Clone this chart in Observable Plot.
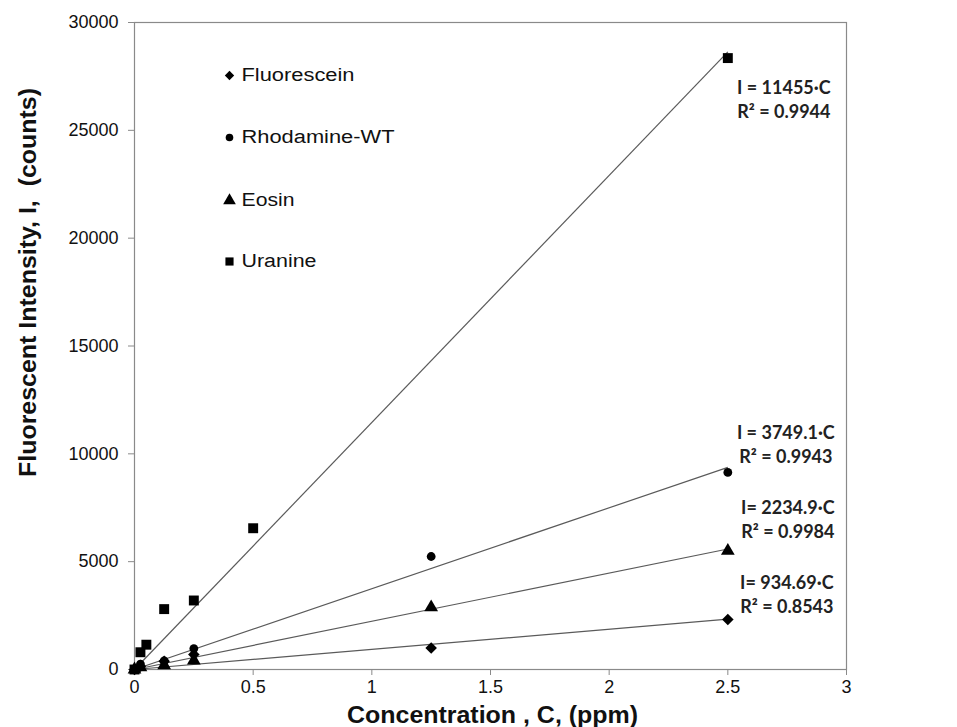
<!DOCTYPE html>
<html>
<head>
<meta charset="utf-8">
<script src="https://cdn.jsdelivr.net/npm/d3@7"></script>
<script src="https://cdn.jsdelivr.net/npm/@observablehq/plot@0.6"></script>
<style>
  html, body { margin: 0; padding: 0; background: #fff; }
  #chart { width: 957px; height: 727px; }
</style>
</head>
<body>
<div id="chart"></div>
<script>
// ---- data ----
const dyes = ["Fluorescein", "Rhodamine-WT", "Eosin", "Uranine"];
const symbols = ["diamond2", "circle", "triangle", "square"];

const fluoresceinX = [0, 0.025, 0.125, 0.25, 1.25, 2.5];
const fluoresceinY = [0, 150, 380, 700, 1000, 2320];

const rhodamineX = [0, 0.025, 0.125, 0.25, 1.25, 2.5];
const rhodamineY = [0, 250, 400, 970, 5240, 9140];

const eosinX = [0, 0.025, 0.125, 0.25, 1.25, 2.5];
const eosinY = [0, 100, 200, 420, 2880, 5500];

const uranineX = [0, 0.025, 0.05, 0.125, 0.25, 0.5, 2.5];
const uranineY = [0, 800, 1150, 2800, 3200, 6550, 28350];

const slopes = [934.69, 3749.1, 2234.9, 11455];
const fitMaxC = 2.5;
const eqLabels = ["I= 934.69·C", "I = 3749.1·C", "I= 2234.9·C", "I = 11455·C"];
const r2Labels = ["R² = 0.8543", "R² = 0.9943", "R² = 0.9984", "R² = 0.9944"];

const xTicks = [0, 0.5, 1, 1.5, 2, 2.5, 3];
const yTicks = [0, 5000, 10000, 15000, 20000, 25000, 30000];
const xTitle = "Concentration , C, (ppm)";
const yTitle = "Fluorescent Intensity, I,  (counts)";

// ---- build tables ----
const xs = [fluoresceinX, rhodamineX, eosinX, uranineX];
const ys = [fluoresceinY, rhodamineY, eosinY, uranineY];
const points = [];
dyes.forEach((d, i) => xs[i].forEach((x, j) => points.push({dye: d, sym: symbols[i], c: x, I: ys[i][j]})));
const fits = dyes.map((d, i) => ({dye: d, c1: 0, i1: 0, c2: fitMaxC, i2: slopes[i] * fitMaxC, eq: eqLabels[i], r2: r2Labels[i]}));
const legend = dyes.map((d, i) => ({dye: d, sym: symbols[i]}));

// layout: equation label offsets (pixels, relative to the fit end)
const labelOffsets = [
  {dx: 59, dy: -36},  // Fluorescein
  {dx: 58, dy: -34},  // Rhodamine
  {dx: 60, dy: -41},  // Eosin
  {dx: 56, dy: 36}    // Uranine
];
const markR = {diamond2: 5.2, circle: 4.4, triangle: 5.1, square: 5.6};
const legR = {diamond2: 4.2, circle: 3.8, triangle: 4.7, square: 4.6};
const legendTextLen = [113, 153, 53, 75];

const font = "'Liberation Sans', Arial, sans-serif";
const eqFont = "Lato, 'Open Sans', sans-serif";

const marks = [
  Plot.frame({stroke: "#8a8a8a", strokeWidth: 1.2}),
  Plot.axisX({ticks: xTicks, tickFormat: d => String(d), tickSize: 6, tickPadding: 5, fontSize: 18, stroke: "#8a8a8a", color: "#111", label: null}),
  Plot.axisY({ticks: yTicks, tickFormat: d => String(d), tickSize: 6, tickPadding: 10, fontSize: 18, stroke: "#8a8a8a", color: "#111", label: null}),
  Plot.link(fits, {x1: "c1", y1: "i1", x2: "c2", y2: "i2", stroke: "#5a5a5a", strokeWidth: 1.2}),
  Plot.dot(points, {x: "c", y: "I", symbol: "sym", r: d => markR[d.sym], fill: "#000", stroke: "none"}),
];

fits.forEach((f, i) => {
  const o = labelOffsets[i];
  marks.push(Plot.text([f], {x: "c2", y: "i2", text: "eq", dx: o.dx, dy: o.dy, fontSize: 18, fontWeight: "bold", fontFamily: eqFont, fill: "#222"}));
  marks.push(Plot.text([f], {x: "c2", y: "i2", text: "r2", dx: o.dx, dy: o.dy + 24, fontSize: 18, fontWeight: "bold", fontFamily: eqFont, fill: "#222"}));
});

// legend inside the plot area
const legendY = [53, 115, 178, 239];
legend.forEach((l, i) => {
  marks.push(Plot.dot([l], {frameAnchor: "top-left", dx: 95, dy: legendY[i], symbol: "sym", r: d => legR[d.sym], fill: "#000", stroke: "none"}));
  marks.push(Plot.text([l], {frameAnchor: "top-left", dx: 107, dy: legendY[i], text: "dye", textAnchor: "start", lineAnchor: "middle", fontSize: 18, fontFamily: font, fill: "#111"}));
});

marks.push(Plot.text([xTitle], {frameAnchor: "bottom", dx: 2, dy: 46, text: d => d, lineAnchor: "middle", textAnchor: "middle", fontSize: 23, fontWeight: "bold", fontFamily: font, fill: "#111"}));
marks.push(Plot.text([yTitle], {frameAnchor: "top-left", dx: -106, dy: 260, text: d => d, rotate: -90, lineAnchor: "middle", textAnchor: "middle", fontSize: 23, fontWeight: "bold", fontFamily: font, fill: "#111"}));

const chart = Plot.plot({
  width: 957,
  height: 727,
  marginLeft: 134,
  marginRight: 111,
  marginTop: 22,
  marginBottom: 58,
  style: {fontFamily: font, background: "#fff", color: "#111", overflow: "visible"},
  x: {domain: [0, 3], label: null},
  y: {domain: [0, 30000], label: null},
  r: {type: "identity"},
  symbol: {type: "identity"},
  marks
});
document.getElementById("chart").appendChild(chart);

// stretch a few texts to the reference's (non-uniformly scaled) lengths
const targetLen = new Map([[xTitle, 291], [yTitle, 389]]);
dyes.forEach((d, i) => targetLen.set(d, legendTextLen[i]));
d3.select(chart).selectAll("text").each(function () {
  const t = this.textContent;
  if (targetLen.has(t)) {
    this.setAttribute("textLength", targetLen.get(t));
    this.setAttribute("lengthAdjust", "spacingAndGlyphs");
  }
});
</script>
</body>
</html>
